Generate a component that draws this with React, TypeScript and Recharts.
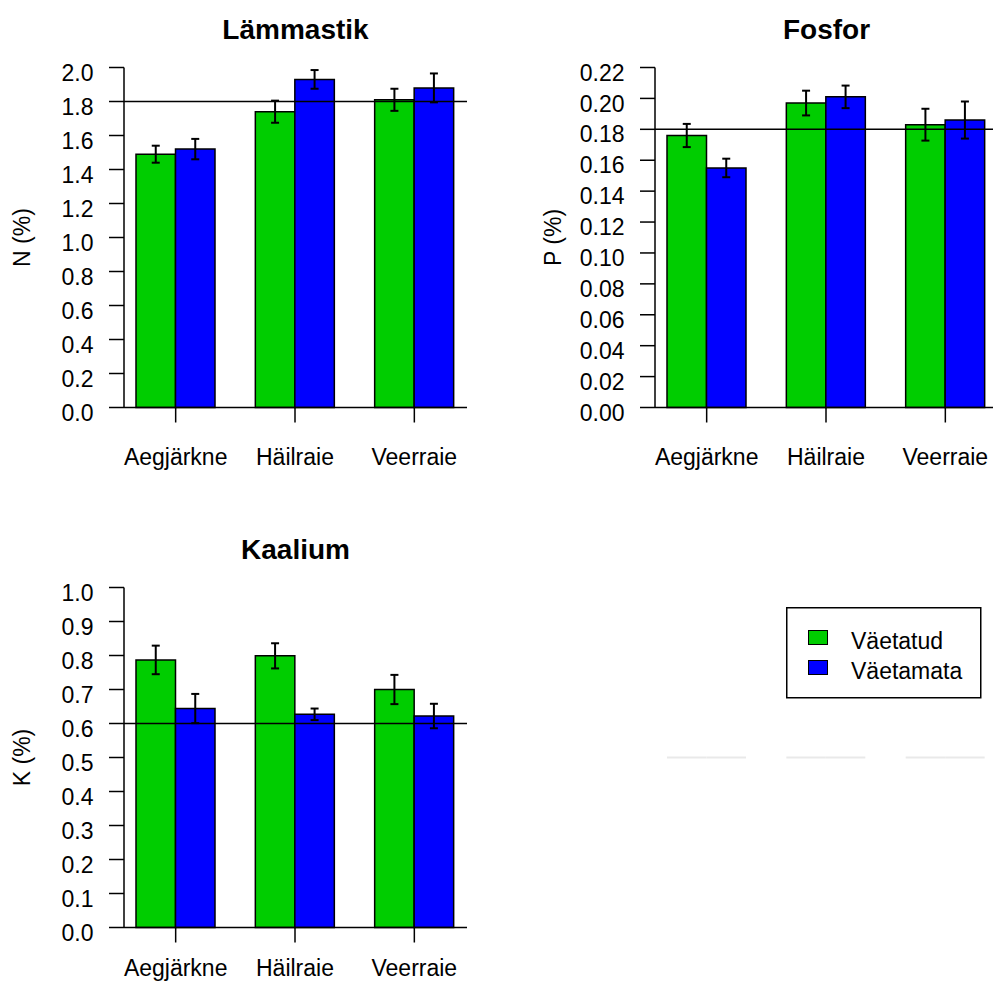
import React from 'react';
import { BarChart, Bar, XAxis, YAxis, ReferenceLine, ErrorBar, Legend } from 'recharts';

// ---- data ----
const sites = ['Aegjärkne', 'Häilraie', 'Veerraie'];
const seriesNames = ['Väetatud', 'Väetamata'];

const nFert = [1.49, 1.74, 1.81];
const nFertSe = [0.05, 0.065, 0.065];
const nUnfert = [1.52, 1.93, 1.88];
const nUnfertSe = [0.06, 0.055, 0.085];
const nRef = 1.8;
const nTicks = [0, 0.2, 0.4, 0.6, 0.8, 1.0, 1.2, 1.4, 1.6, 1.8, 2.0];

const pFert = [0.176, 0.197, 0.183];
const pFertSe = [0.0075, 0.008, 0.0103];
const pUnfert = [0.155, 0.201, 0.186];
const pUnfertSe = [0.006, 0.0073, 0.012];
const pRef = 0.18;
const pTicks = [0, 0.02, 0.04, 0.06, 0.08, 0.1, 0.12, 0.14, 0.16, 0.18, 0.2, 0.22];

const kFert = [0.787, 0.799, 0.7];
const kFertSe = [0.042, 0.037, 0.043];
const kUnfert = [0.644, 0.627, 0.622];
const kUnfertSe = [0.043, 0.017, 0.036];
const kRef = 0.6;
const kTicks = [0, 0.1, 0.2, 0.3, 0.4, 0.5, 0.6, 0.7, 0.8, 0.9, 1.0];

const emptyVals = [0, 0, 0];

const GREEN = '#00CD00';
const BLUE = '#0000FF';
const FONT = '"Liberation Sans", Arial, Helvetica, sans-serif';

function buildRows(f: number[], fse: number[], u: number[], use: number[]) {
  return sites.map((s, i) => ({ site: s, fert: f[i], fertSe: fse[i], unfert: u[i], unfertSe: use[i] }));
}

const CW = 496;
const CH = 494;
const MARGIN = { top: 67.5, right: 29, bottom: 0, left: 0 };
const XPAD = { left: -8, right: -7 };
const LEGEND_H = 92;

function Panel(props: { left: number; top: number; rows: any[]; ticks: number[]; digits: number; refY: number; labelGap: number }) {
  const { left, top, rows, ticks, digits, refY, labelGap } = props;
  const max = ticks[ticks.length - 1];
  return (
    <div style={{ position: 'absolute', left, top }}>
      <BarChart width={CW} height={CH} data={rows} margin={MARGIN} barGap={0} barSize={39.5}>
        <XAxis
          dataKey="site"
          padding={XPAD}
          height={86.5}
          interval={0}
          tickSize={15}
          tickMargin={labelGap}
          axisLine={{ stroke: '#000', strokeWidth: 1.5 }}
          tickLine={{ stroke: '#000', strokeWidth: 1.5 }}
          tick={{ fill: '#000', fontSize: 23 }}
        />
        <YAxis
          type="number"
          domain={[0, max]}
          ticks={ticks}
          interval={0}
          width={124}
          tickSize={15}
          tickMargin={15.5}
          tickFormatter={(v: number) => v.toFixed(digits)}
          axisLine={{ stroke: '#000', strokeWidth: 1.5 }}
          tickLine={{ stroke: '#000', strokeWidth: 1.5 }}
          tick={{ fill: '#000', fontSize: 23, dy: 5 }}
        />
        <Bar dataKey="fert" name={seriesNames[0]} fill={GREEN} stroke="#000" strokeWidth={1.5} isAnimationActive={false}>
          <ErrorBar dataKey="fertSe" direction="y" width={4} stroke="#000" strokeWidth={2} />
        </Bar>
        <Bar dataKey="unfert" name={seriesNames[1]} fill={BLUE} stroke="#000" strokeWidth={1.5} isAnimationActive={false}>
          <ErrorBar dataKey="unfertSe" direction="y" width={4} stroke="#000" strokeWidth={2} />
        </Bar>
        <ReferenceLine y={refY} stroke="#000" strokeWidth={1.5} />
      </BarChart>
    </div>
  );
}

function LegendBox(props: any) {
  const payload = ((props.payload || []) as any[])
    .slice()
    .sort((a, b) => seriesNames.indexOf(a.value) - seriesNames.indexOf(b.value));
  return (
    <svg width={196} height={LEGEND_H} style={{ display: 'block' }}>
      <rect x={0.75} y={0.75} width={194} height={90} fill="#fff" stroke="#000" strokeWidth={1.5} />
      {payload.map((p, i) => (
        <g key={i}>
          <rect x={22.5} y={23.5 + i * 30} width={19} height={14} fill={p.color} stroke="#000" strokeWidth={1} />
          <text x={65} y={42 + i * 30} fontSize={23} fill="#000" fontFamily={FONT}>
            {p.value}
          </text>
        </g>
      ))}
    </svg>
  );
}

function EmptyPanel(props: { left: number; top: number }) {
  const rows = sites.map((s, i) => ({ site: s, a: emptyVals[i], b: emptyVals[i] }));
  const lineShape = (p: any) => (
    <line x1={p.x} x2={p.x + p.width} y1={p.y + p.height} y2={p.y + p.height} stroke="#e9e9e9" strokeWidth={2} />
  );
  return (
    <div style={{ position: 'absolute', left: props.left, top: props.top }}>
      <BarChart
        width={CW}
        height={CH}
        data={rows}
        margin={{ top: 67.5, right: 29, bottom: 86.5 - LEGEND_H, left: 124 }}
        barGap={0}
        barSize={39.5}
      >
        <XAxis dataKey="site" hide padding={XPAD} />
        <YAxis hide type="number" domain={[-1, 1]} />
        <Bar dataKey="a" name={seriesNames[0]} fill={GREEN} shape={lineShape} isAnimationActive={false} />
        <Bar dataKey="b" name={seriesNames[1]} fill={BLUE} shape={lineShape} isAnimationActive={false} />
        <Legend
          content={(p: any) => <LegendBox {...p} />}
          wrapperStyle={{ position: 'absolute', left: 254.5, top: 87, width: 196, height: LEGEND_H }}
        />
      </BarChart>
    </div>
  );
}

export default function App() {
  const nRows = buildRows(nFert, nFertSe, nUnfert, nUnfertSe);
  const pRows = buildRows(pFert, pFertSe, pUnfert, pUnfertSe);
  const kRows = buildRows(kFert, kFertSe, kUnfert, kUnfertSe);
  return (
    <div
      style={{
        position: 'absolute',
        left: 0,
        top: 0,
        width: 993,
        height: 988,
        overflow: 'hidden',
        background: '#fff',
        fontFamily: FONT,
      }}
    >
      <Panel left={0} top={0} rows={nRows} ticks={nTicks} digits={1} refY={nRef} labelGap={26} />
      <Panel left={531} top={0} rows={pRows} ticks={pTicks} digits={2} refY={pRef} labelGap={26} />
      <Panel left={0} top={520} rows={kRows} ticks={kTicks} digits={1} refY={kRef} labelGap={17} />
      <EmptyPanel left={531} top={520} />
      <svg width={993} height={988} style={{ position: 'absolute', left: 0, top: 0, pointerEvents: 'none' }}>
        <g fontFamily={FONT} fill="#000">
          <text x={295.5} y={39} fontSize={28} fontWeight="bold" textAnchor="middle">Lämmastik</text>
          <text x={826.5} y={39} fontSize={28} fontWeight="bold" textAnchor="middle">Fosfor</text>
          <text x={295.5} y={559} fontSize={28} fontWeight="bold" textAnchor="middle">Kaalium</text>
          <text x={30} y={237.5} fontSize={23} textAnchor="middle" transform="rotate(-90 30 237.5)">N (%)</text>
          <text x={561} y={237.5} fontSize={23} textAnchor="middle" transform="rotate(-90 561 237.5)">P (%)</text>
          <text x={30} y={757.5} fontSize={23} textAnchor="middle" transform="rotate(-90 30 757.5)">K (%)</text>
        </g>
      </svg>
    </div>
  );
}
